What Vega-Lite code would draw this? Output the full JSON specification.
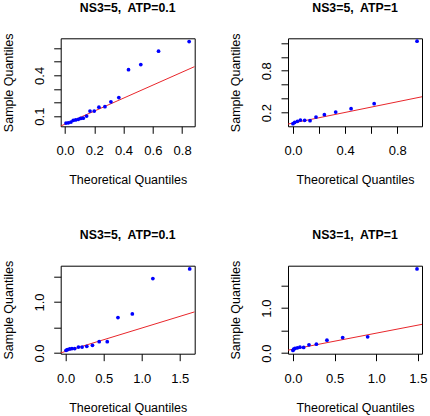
{
  "$schema": "https://vega.github.io/schema/vega-lite/v6.json",
  "autosize": {"type": "none"},
  "padding": {"left": 60.7, "top": 38.3, "right": 369.3, "bottom": 377.7},
  "background": "white",
  "datasets": {
    "pts": [
      {"panel": 1, "x": 0.007, "y": 0.049}, {"panel": 1, "x": 0.023, "y": 0.051}, {"panel": 1, "x": 0.041, "y": 0.056},
      {"panel": 1, "x": 0.057, "y": 0.069}, {"panel": 1, "x": 0.073, "y": 0.072}, {"panel": 1, "x": 0.091, "y": 0.076},
      {"panel": 1, "x": 0.107, "y": 0.083}, {"panel": 1, "x": 0.125, "y": 0.085}, {"panel": 1, "x": 0.148, "y": 0.1},
      {"panel": 1, "x": 0.171, "y": 0.137}, {"panel": 1, "x": 0.2, "y": 0.137}, {"panel": 1, "x": 0.232, "y": 0.166},
      {"panel": 1, "x": 0.273, "y": 0.169}, {"panel": 1, "x": 0.314, "y": 0.205}, {"panel": 1, "x": 0.368, "y": 0.237},
      {"panel": 1, "x": 0.434, "y": 0.442}, {"panel": 1, "x": 0.518, "y": 0.48}, {"panel": 1, "x": 0.639, "y": 0.578},
      {"panel": 1, "x": 0.848, "y": 0.649},
      {"panel": 2, "x": 0.0, "y": 0.043}, {"panel": 2, "x": 0.013, "y": 0.061}, {"panel": 2, "x": 0.034, "y": 0.076},
      {"panel": 2, "x": 0.057, "y": 0.094}, {"panel": 2, "x": 0.09, "y": 0.09}, {"panel": 2, "x": 0.131, "y": 0.086},
      {"panel": 2, "x": 0.177, "y": 0.137}, {"panel": 2, "x": 0.241, "y": 0.171}, {"panel": 2, "x": 0.328, "y": 0.209},
      {"panel": 2, "x": 0.446, "y": 0.257}, {"panel": 2, "x": 0.623, "y": 0.329}, {"panel": 2, "x": 0.952, "y": 1.223},
      {"panel": 3, "x": 0.005, "y": 0.053}, {"panel": 3, "x": 0.022, "y": 0.066}, {"panel": 3, "x": 0.053, "y": 0.08},
      {"panel": 3, "x": 0.083, "y": 0.086}, {"panel": 3, "x": 0.119, "y": 0.086}, {"panel": 3, "x": 0.168, "y": 0.117},
      {"panel": 3, "x": 0.216, "y": 0.117}, {"panel": 3, "x": 0.278, "y": 0.131}, {"panel": 3, "x": 0.353, "y": 0.15},
      {"panel": 3, "x": 0.441, "y": 0.222}, {"panel": 3, "x": 0.547, "y": 0.222}, {"panel": 3, "x": 0.688, "y": 0.696},
      {"panel": 3, "x": 0.877, "y": 0.768}, {"panel": 3, "x": 1.147, "y": 1.462}, {"panel": 3, "x": 1.631, "y": 1.651},
      {"panel": 4, "x": 0.0, "y": 0.06}, {"panel": 4, "x": 0.008, "y": 0.088}, {"panel": 4, "x": 0.024, "y": 0.104},
      {"panel": 4, "x": 0.053, "y": 0.119}, {"panel": 4, "x": 0.084, "y": 0.133}, {"panel": 4, "x": 0.128, "y": 0.126},
      {"panel": 4, "x": 0.192, "y": 0.185}, {"panel": 4, "x": 0.281, "y": 0.199}, {"panel": 4, "x": 0.408, "y": 0.287},
      {"panel": 4, "x": 0.597, "y": 0.347}, {"panel": 4, "x": 0.897, "y": 0.362}, {"panel": 4, "x": 1.49, "y": 1.87}
    ],
    "lns": [
      {"panel": 1, "x": -0.029, "y": 0.027}, {"panel": 1, "x": 0.886, "y": 0.465},
      {"panel": 2, "x": -0.038, "y": 0.037}, {"panel": 2, "x": 0.99, "y": 0.428},
      {"panel": 3, "x": -0.065, "y": 0.002}, {"panel": 3, "x": 1.697, "y": 0.808},
      {"panel": 4, "x": -0.06, "y": 0.066}, {"panel": 4, "x": 1.55, "y": 0.64}
    ]
  },
  "columns": 2,
  "spacing": {"row": 139.4, "column": 93.3},
  "bounds": "flush",
  "concat": [
    {
      "title": "NS3=5,\u00a0 ATP=0.1",
      "width": 134, "height": 88,
      "encoding": {
        "x": {"field": "x", "type": "quantitative",
              "scale": {"domain": [-0.029, 0.886], "nice": false, "zero": false},
              "axis": {"title": "Theoretical Quantiles", "values": [0, 0.2, 0.4, 0.6, 0.8], "format": ".1f"}},
        "y": {"field": "y", "type": "quantitative",
              "scale": {"domain": [0.025, 0.673], "nice": false, "zero": false},
              "axis": {"title": "Sample Quantiles", "values": [0.1, 0.2, 0.3, 0.4, 0.5, 0.6], "format": ".1f",
                       "labelExpr": "indexof(['0.1','0.4'], datum.label) >= 0 ? datum.label : ''"}}
      },
      "layer": [
        {"data": {"name": "lns"}, "transform": [{"filter": "datum.panel == 1"}],
         "mark": {"type": "line", "color": "#e8262b", "strokeWidth": 1, "clip": true}},
        {"data": {"name": "pts"}, "transform": [{"filter": "datum.panel == 1"}],
         "mark": {"type": "circle", "color": "#0000ff", "opacity": 1, "size": 14, "clip": true}}
      ]
    },
    {
      "title": "NS3=5,\u00a0 ATP=1",
      "width": 134, "height": 88,
      "encoding": {
        "x": {"field": "x", "type": "quantitative",
              "scale": {"domain": [-0.038, 0.99], "nice": false, "zero": false},
              "axis": {"title": "Theoretical Quantiles", "values": [0, 0.2, 0.4, 0.6, 0.8], "format": ".1f",
                       "labelExpr": "indexof(['0.0','0.4','0.8'], datum.label) >= 0 ? datum.label : ''"}},
        "y": {"field": "y", "type": "quantitative",
              "scale": {"domain": [0.005, 1.265], "nice": false, "zero": false},
              "axis": {"title": "Sample Quantiles", "values": [0.2, 0.4, 0.6, 0.8, 1.0, 1.2], "format": ".1f",
                       "labelExpr": "indexof(['0.2','0.8'], datum.label) >= 0 ? datum.label : ''"}}
      },
      "layer": [
        {"data": {"name": "lns"}, "transform": [{"filter": "datum.panel == 2"}],
         "mark": {"type": "line", "color": "#e8262b", "strokeWidth": 1, "clip": true}},
        {"data": {"name": "pts"}, "transform": [{"filter": "datum.panel == 2"}],
         "mark": {"type": "circle", "color": "#0000ff", "opacity": 1, "size": 14, "clip": true}}
      ]
    },
    {
      "title": "NS3=5,\u00a0 ATP=0.1",
      "width": 134, "height": 88,
      "encoding": {
        "x": {"field": "x", "type": "quantitative",
              "scale": {"domain": [-0.065, 1.697], "nice": false, "zero": false},
              "axis": {"title": "Theoretical Quantiles", "values": [0, 0.5, 1.0, 1.5], "format": ".1f"}},
        "y": {"field": "y", "type": "quantitative",
              "scale": {"domain": [-0.014, 1.714], "nice": false, "zero": false},
              "axis": {"title": "Sample Quantiles", "values": [0, 0.5, 1.0, 1.5], "format": ".1f",
                       "labelExpr": "indexof(['0.0','1.0'], datum.label) >= 0 ? datum.label : ''"}}
      },
      "layer": [
        {"data": {"name": "lns"}, "transform": [{"filter": "datum.panel == 3"}],
         "mark": {"type": "line", "color": "#e8262b", "strokeWidth": 1, "clip": true}},
        {"data": {"name": "pts"}, "transform": [{"filter": "datum.panel == 3"}],
         "mark": {"type": "circle", "color": "#0000ff", "opacity": 1, "size": 14, "clip": true}}
      ]
    },
    {
      "title": "NS3=1,\u00a0 ATP=1",
      "width": 134, "height": 88,
      "encoding": {
        "x": {"field": "x", "type": "quantitative",
              "scale": {"domain": [-0.06, 1.55], "nice": false, "zero": false},
              "axis": {"title": "Theoretical Quantiles", "values": [0, 0.5, 1.0, 1.5], "format": ".1f"}},
        "y": {"field": "y", "type": "quantitative",
              "scale": {"domain": [-0.012, 1.942], "nice": false, "zero": false},
              "axis": {"title": "Sample Quantiles", "values": [0, 0.5, 1.0, 1.5], "format": ".1f",
                       "labelExpr": "indexof(['0.0','1.0'], datum.label) >= 0 ? datum.label : ''"}}
      },
      "layer": [
        {"data": {"name": "lns"}, "transform": [{"filter": "datum.panel == 4"}],
         "mark": {"type": "line", "color": "#e8262b", "strokeWidth": 1, "clip": true}},
        {"data": {"name": "pts"}, "transform": [{"filter": "datum.panel == 4"}],
         "mark": {"type": "circle", "color": "#0000ff", "opacity": 1, "size": 14, "clip": true}}
      ]
    }
  ],
  "config": {
    "font": "Liberation Sans",
    "view": {"stroke": "#000000", "strokeWidth": 1, "fill": null},
    "title": {"font": "Liberation Sans", "fontSize": 12.3, "fontWeight": "bold", "color": "#000000",
              "baseline": "alphabetic", "offset": 18.8, "anchor": "middle", "frame": "group"},
    "axis": {"domain": false, "grid": false, "ticks": true, "tickColor": "#000000", "tickSize": 7, "tickWidth": 1,
             "labelFont": "Liberation Sans", "labelFontSize": 13, "labelColor": "#000000",
             "labelOverlap": false, "labelFlush": false,
             "titleFont": "Liberation Sans", "titleFontSize": 12.5, "titleFontWeight": "normal", "titleColor": "#000000"},
    "axisX": {"labelBaseline": "top", "labelPadding": 11.5, "titlePadding": 16, "labelAngle": 0},
    "axisY": {"labelAngle": -90, "labelAlign": "center", "labelBaseline": "alphabetic",
              "labelPadding": 10.4, "titlePadding": 21, "titleBaseline": "alphabetic"}
  }
}
